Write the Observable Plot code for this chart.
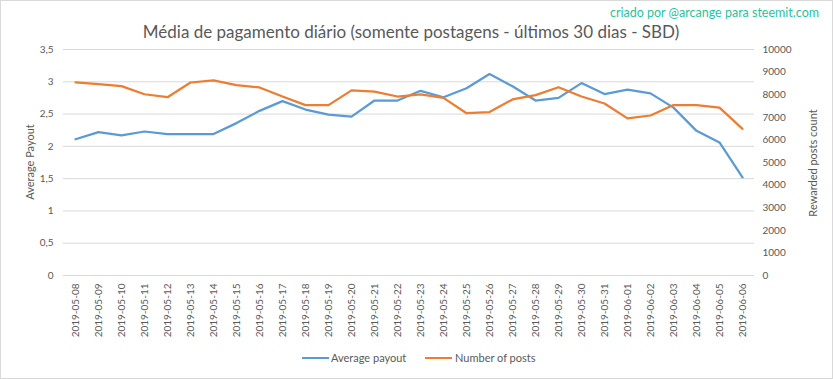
<!DOCTYPE html>
<html><head><meta charset="utf-8">
<script src="https://cdn.jsdelivr.net/npm/d3@7"></script>
<script src="https://cdn.jsdelivr.net/npm/@observablehq/plot@0.6"></script>
<style>
body{margin:0;background:#fff;}
#wrap{position:relative;width:833px;height:379px;font-family:Lato,sans-serif;color:#595959;overflow:hidden;}
#wrap svg{position:absolute;left:0;top:0;}
.ov{position:absolute;white-space:nowrap;}
#border{position:absolute;left:0;top:0;width:831px;height:377px;border:1px solid #d9d9d9;pointer-events:none;}
#title{left:0;width:822px;text-align:center;top:21px;font-size:17px;line-height:22px;}
#credit{right:14px;top:5px;font-size:12.5px;color:#1fc4a0;}
.sw{position:absolute;height:2px;width:27px;}
.lg{font-size:11px;line-height:14px;}
.axl{font-size:11px;line-height:13px;transform:translate(-50%,-50%) rotate(-90deg);}
</style></head><body>
<div id="wrap"></div>
<script>
const dates = ["2019-05-08","2019-05-09","2019-05-10","2019-05-11","2019-05-12","2019-05-13","2019-05-14","2019-05-15","2019-05-16","2019-05-17","2019-05-18","2019-05-19","2019-05-20","2019-05-21","2019-05-22","2019-05-23","2019-05-24","2019-05-25","2019-05-26","2019-05-27","2019-05-28","2019-05-29","2019-05-30","2019-05-31","2019-06-01","2019-06-02","2019-06-03","2019-06-04","2019-06-05","2019-06-06"];
const avgPayout = [2.11,2.22,2.17,2.23,2.19,2.19,2.19,2.36,2.55,2.70,2.57,2.49,2.46,2.71,2.71,2.86,2.76,2.90,3.12,2.93,2.71,2.75,2.98,2.81,2.88,2.82,2.60,2.24,2.06,1.52];
const numPosts = [8550,8470,8380,8020,7890,8540,8630,8420,8320,7920,7540,7540,8190,8140,7920,8010,7860,7180,7230,7790,7980,8330,7920,7610,6950,7080,7540,7540,7430,6490];
const leftTicks = [0,0.5,1,1.5,2,2.5,3,3.5];
const rightTicks = [0,1000,2000,3000,4000,5000,6000,7000,8000,9000,10000];
const seriesNames = ["Average payout","Number of posts"];
const colors = ["#5b9bd5","#ed7d31"];
const titleText = "Média de pagamento diário (somente postagens - últimos 30 dias - SBD)";
const creditText = "criado por @arcange para steemit.com";
const leftLabel = "Average Payout";
const rightLabel = "Rewarded posts count";

const ratio = 3.5 / 10000;
const data = dates.map((d, i) => ({date: d, avg: avgPayout[i], posts: numPosts[i]}));

const chart = Plot.plot({
  width: 833, height: 379,
  marginLeft: 63, marginRight: 79, marginTop: 49, marginBottom: 104,
  style: {fontFamily: "Lato, sans-serif", fontSize: "10px", color: "#595959", background: "transparent"},
  x: {type: "point", domain: dates, padding: 0.5},
  y: {domain: [0, 3.5]},
  marks: [
    Plot.gridY(leftTicks, {stroke: "#d9d9d9", strokeOpacity: 1, strokeWidth: 1}),
    Plot.axisY(leftTicks, {anchor: "left", tickSize: 0, tickPadding: 10, tickFormat: v => String(v).replace(".", ","), label: null}),
    Plot.axisY(rightTicks.map(v => v * ratio), {anchor: "right", tickSize: 0, tickPadding: 8, tickFormat: v => String(Math.round(v / ratio)), label: null}),
    Plot.axisX({tickRotate: -90, tickSize: 0, tickPadding: 8, label: null}),
    Plot.line(data, {x: "date", y: "avg", stroke: colors[0], strokeWidth: 2.25, strokeLinejoin: "round"}),
    Plot.line(data, {x: "date", y: d => d.posts * ratio, stroke: colors[1], strokeWidth: 2.25, strokeLinejoin: "round"})
  ]
});

const wrap = document.getElementById("wrap");
wrap.appendChild(chart);

function addDiv(cls, id, text, style) {
  const el = document.createElement("div");
  el.className = cls;
  if (id) el.id = id;
  if (text) el.textContent = text;
  if (style) Object.assign(el.style, style);
  wrap.appendChild(el);
  return el;
}
addDiv("ov", "title", titleText);
addDiv("ov", "credit", creditText);
addDiv("ov axl", null, leftLabel, {left: "29px", top: "162px"});
addDiv("ov axl", null, rightLabel, {left: "812px", top: "163px"});
addDiv("sw", null, null, {left: "302px", top: "357px", background: colors[0]});
addDiv("ov lg", null, seriesNames[0], {left: "331px", top: "351px"});
addDiv("sw", null, null, {left: "425px", top: "357px", background: colors[1]});
addDiv("ov lg", null, seriesNames[1], {left: "455px", top: "351px"});
addDiv("", "border");
</script>
</body></html>
